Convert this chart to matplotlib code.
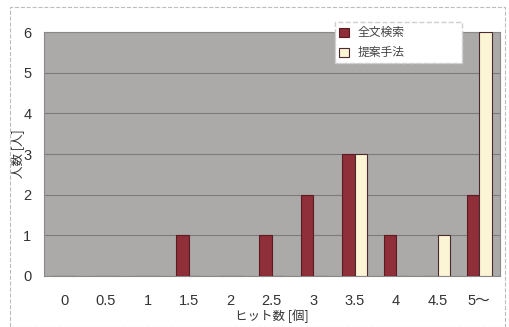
import numpy as np
import matplotlib
matplotlib.use("Agg")
import matplotlib.pyplot as plt
from matplotlib.patches import Rectangle

plt.rcParams["font.family"] = ["Noto Sans CJK JP", "DejaVu Sans"]

# ── data ─────────────────────────────────────────────────────────────
categories = ["0", "0.5", "1", "1.5", "2", "2.5", "3", "3.5", "4", "4.5", "5〜"]
fulltext   = [0, 0, 0, 1, 0, 1, 2, 3, 1, 0, 2]   # 全文検索
proposed   = [0, 0, 0, 0, 0, 0, 0, 3, 0, 1, 6]   # 提案手法

red   = "#8e2f39"
cream = "#fbf5d6"
num_font = ["Liberation Sans", "Noto Sans CJK JP"]

fig = plt.figure(figsize=(5.10, 3.27), dpi=100)
fig.patch.set_facecolor("white")
ax = fig.add_axes([0.086, 0.156, 0.894, 0.746])
ax.set_facecolor("#aca9a9")

x = np.arange(len(categories))
w = 0.3
ax.bar(x - w, fulltext, width=w, align="edge", color=red,
       edgecolor="#5a1c22", linewidth=0.8, label="全文検索", zorder=3)
ax.bar(x, proposed, width=w, align="edge", color=cream,
       edgecolor="#4a2a2e", linewidth=0.8, label="提案手法", zorder=3)

ax.set_xlim(-0.5, len(categories) - 0.5)
ax.set_ylim(0, 6)
ax.set_yticks(range(7))
ax.yaxis.grid(True, color="#7d7b7b", linewidth=0.8, zorder=1)
ax.set_axisbelow(True)
ax.set_xticks(x)
ax.set_xticklabels(categories)
ax.tick_params(axis="x", length=0, pad=13, labelcolor="#333333")
ax.tick_params(axis="y", length=0, pad=9, labelcolor="#333333")
for lbl in ax.get_xticklabels() + ax.get_yticklabels():
    lbl.set_family(num_font)
    lbl.set_fontsize(10.5)
for s in ax.spines.values():
    s.set_color("#8a8888")
    s.set_linewidth(0.8)

ax.set_xlabel("ヒット数 [個]", fontsize=9, color="#333333", labelpad=1)
ax.set_ylabel("人数 [人]", fontsize=9, color="#333333", labelpad=-1)

leg = ax.legend(loc="upper left", mode="expand",
                bbox_to_anchor=(335 / 510, 1 - 62 / 327, 127 / 510, 40 / 327),
                bbox_transform=fig.transFigure, fontsize=8.5, frameon=True,
                fancybox=False, handlelength=0.8, handleheight=0.8,
                borderpad=0.35, labelspacing=0.6, handletextpad=0.8,
                borderaxespad=0)
leg.get_frame().set_edgecolor("#cfcfcf")
leg.get_frame().set_linestyle("--")
leg.get_frame().set_facecolor("white")
leg.get_frame().set_alpha(1)
for t in leg.get_texts():
    t.set_color("#444444")

# dashed frame around the whole chart
fig.patches.append(Rectangle((0.02, 0.0), 0.97, 0.978, transform=fig.transFigure,
                             fill=False, edgecolor="#bdbdbd", linewidth=0.8,
                             linestyle="--"))

fig.savefig("out.png", dpi=100)
